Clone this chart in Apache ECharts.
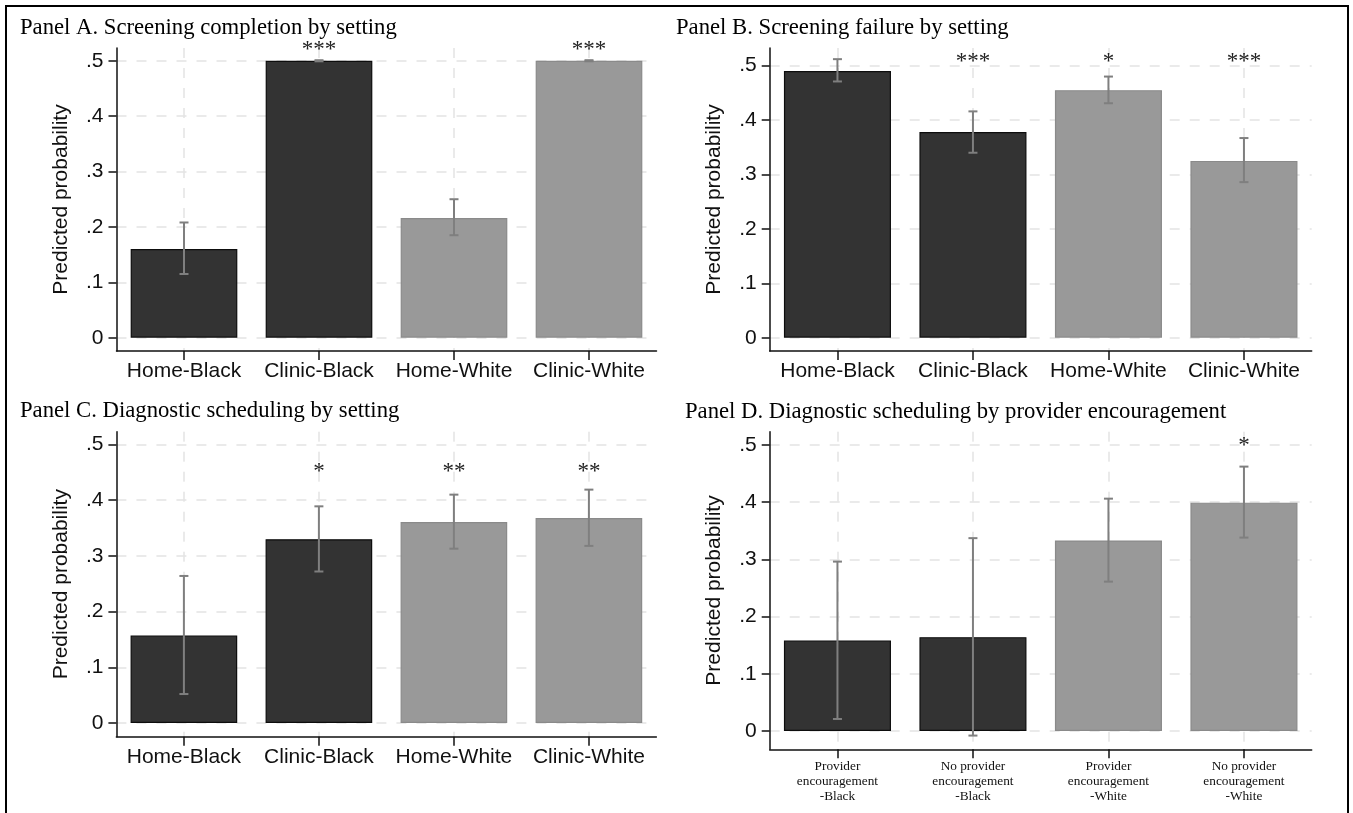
<!DOCTYPE html>
<html><head><meta charset="utf-8">
<script src="https://cdn.jsdelivr.net/npm/echarts@6/dist/echarts.min.js"></script>
<style>html,body{margin:0;padding:0;background:#fff}#c{width:1353px;height:813px}</style>
</head><body><div id="c"></div>
<script>
// ---- categories & tick labels ----
const settingCats = ['Home-Black', 'Clinic-Black', 'Home-White', 'Clinic-White'];
const encourageCats = ['Provider\nencouragement\n-Black', 'No provider\nencouragement\n-Black', 'Provider\nencouragement\n-White', 'No provider\nencouragement\n-White'];
const barRace = ['Black', 'Black', 'White', 'White'];
const yTicks = [0, 0.1, 0.2, 0.3, 0.4, 0.5];
const yName = 'Predicted probability';

// ---- Panel A ----
const titleA = 'Panel A. Screening completion by setting';
const valuesA = [0.160, 0.500, 0.216, 0.500];
const lowA = [0.115, 0.499, 0.185, 0.499];
const highA = [0.208, 0.501, 0.250, 0.501];
const starsA = ['', '***', '', '***'];
const starYA = 0.525;

// ---- Panel B ----
const titleB = 'Panel B. Screening failure by setting';
const valuesB = [0.490, 0.378, 0.455, 0.325];
const lowB = [0.471, 0.340, 0.431, 0.286];
const highB = [0.512, 0.416, 0.480, 0.367];
const starsB = ['', '***', '*', '***'];
const starYB = 0.512;

// ---- Panel C ----
const titleC = 'Panel C. Diagnostic scheduling by setting';
const valuesC = [0.157, 0.330, 0.361, 0.368];
const lowC = [0.052, 0.272, 0.313, 0.318];
const highC = [0.264, 0.389, 0.410, 0.419];
const starsC = ['', '*', '**', '**'];
const starYC = 0.456;

// ---- Panel D ----
const titleD = 'Panel D. Diagnostic scheduling by provider encouragement';
const valuesD = [0.158, 0.164, 0.333, 0.399];
const lowD = [0.021, -0.008, 0.261, 0.338];
const highD = [0.296, 0.337, 0.406, 0.462];
const starsD = ['', '', '', '*'];
const starYD = 0.503;

// ---- styling / layout ----
const SANS = 'Liberation Sans';
const SERIF = 'Liberation Serif';
const INK = '#111';
const GRIDC = '#e4e4e4';
const panels = [
  {title: titleA, cats: settingCats, v: valuesA, lo: lowA, hi: highA, st: starsA, sy: starYA,
   grid: {left: 116.5, top: 48, width: 540, height: 303}, min: -0.024, max: 0.523, tl: 20, tt: 17, d: false},
  {title: titleB, cats: settingCats, v: valuesB, lo: lowB, hi: highB, st: starsB, sy: starYB,
   grid: {left: 769.7, top: 48, width: 542, height: 303}, min: -0.0244, max: 0.5325, tl: 676, tt: 17, d: false},
  {title: titleC, cats: settingCats, v: valuesC, lo: lowC, hi: highC, st: starsC, sy: starYC,
   grid: {left: 116.4, top: 431.7, width: 540, height: 305}, min: -0.0246, max: 0.523, tl: 20, tt: 400, d: false},
  {title: titleD, cats: encourageCats, v: valuesD, lo: lowD, hi: highD, st: starsD, sy: starYD,
   grid: {left: 769.7, top: 431.7, width: 542, height: 317.6}, min: -0.032, max: 0.523, tl: 685, tt: 401, d: true}
];
const raceColor = {Black: {color: '#333333', borderColor: '#0d0d0d'}, White: {color: '#999999', borderColor: '#8a8a8a'}};

function errRender(params, api) {
  const x = api.value(0), lo = api.value(1), hi = api.value(2);
  const a = api.coord([x, lo]), b = api.coord([x, hi]);
  const w = 4.5;
  const style = {stroke: '#7f7f7f', lineWidth: 2};
  return {type: 'group', children: [
    {type: 'line', shape: {x1: a[0], y1: a[1], x2: b[0], y2: b[1]}, style},
    {type: 'line', shape: {x1: a[0] - w, y1: a[1], x2: a[0] + w, y2: a[1]}, style},
    {type: 'line', shape: {x1: b[0] - w, y1: b[1], x2: b[0] + w, y2: b[1]}, style}
  ]};
}
function starRender(params, api) {
  const p = api.coord([api.value(0), api.value(1)]);
  const txt = starsOf[params.seriesIndex][params.dataIndex];
  return {type: 'text', x: p[0], y: p[1] + 3, style: {text: txt, fill: '#222', font: '23px "' + SERIF + '"', align: 'center', verticalAlign: 'middle'}};
}
const starsOf = {};

const option = {
  backgroundColor: '#fff', animation: false,
  title: [], grid: [], xAxis: [], yAxis: [], series: [],
  graphic: [{type: 'rect', shape: {x: 6, y: 6, width: 1342, height: 820}, style: {fill: 'none', stroke: '#000', lineWidth: 2}, silent: true}]
};

panels.forEach((p, i) => {
  option.title.push({text: p.title, left: p.tl, top: p.tt, padding: 0,
    textStyle: {fontFamily: SERIF, fontSize: 22.7, fontWeight: 'normal', color: '#000'}});
  option.grid.push(Object.assign({containLabel: false}, p.grid));
  // main category axis
  option.xAxis.push({gridIndex: i, type: 'category', data: p.cats, position: 'bottom',
    axisLine: {show: true, onZero: false, lineStyle: {color: INK, width: 1.5}},
    axisTick: {show: true, alignWithLabel: true, length: 9, lineStyle: {color: INK, width: 1.5}},
    axisLabel: p.d
      ? {interval: 0, fontFamily: SERIF, fontSize: 13.3, lineHeight: 15, color: '#111', margin: 10}
      : {interval: 0, fontFamily: SANS, fontSize: 21, color: '#111', margin: 10},
    splitLine: {show: false}});
  // overlay axis used only for the vertical dashed gridlines at category centres
  const half = [];
  for (let k = 0; k <= 2 * p.cats.length; k++) half.push(String(k));
  option.xAxis.push({gridIndex: i, type: 'category', data: half, position: 'top', boundaryGap: false,
    axisLine: {show: false}, axisTick: {show: false}, axisLabel: {show: false},
    splitLine: {show: true, interval: (idx) => idx % 2 === 1, lineStyle: {type: [10, 10], color: GRIDC, width: 1.5}}});
  option.yAxis.push({gridIndex: i, type: 'value', min: p.min, max: p.max,
    axisLine: {show: true, onZero: false, lineStyle: {color: INK, width: 1.5}},
    axisTick: {show: true, length: 8, customValues: yTicks, lineStyle: {color: INK, width: 1.5}},
    axisLabel: {customValues: yTicks, fontFamily: SANS, fontSize: 21, color: '#111', margin: 13,
      formatter: (v) => v === 0 ? '0' : v.toFixed(1).replace(/^0\./, '.')},
    splitLine: {show: true, lineStyle: {type: [10, 10], color: GRIDC, width: 1.5}},
    name: yName, nameLocation: 'middle', nameGap: 45,
    nameTextStyle: {fontFamily: SANS, fontSize: 21, color: '#111'}});
  const xi = i * 2;
  option.series.push({type: 'bar', xAxisIndex: xi, yAxisIndex: i, barWidth: '79%',
    data: p.v.map((v, k) => ({value: v, itemStyle: Object.assign({borderWidth: 1.2}, raceColor[barRace[k]])})), z: 2});
  option.series.push({type: 'custom', xAxisIndex: xi, yAxisIndex: i, renderItem: errRender, z: 5,
    data: p.v.map((v, k) => [k, p.lo[k], p.hi[k]])});
  starsOf[option.series.length] = p.st;
  option.series.push({type: 'custom', xAxisIndex: xi, yAxisIndex: i, renderItem: starRender, z: 6,
    data: p.st.map((s, k) => [k, p.sy])});
});

const chart = echarts.init(document.getElementById('c'), null, {renderer: 'canvas'});
chart.setOption(option);
</script></body></html>
